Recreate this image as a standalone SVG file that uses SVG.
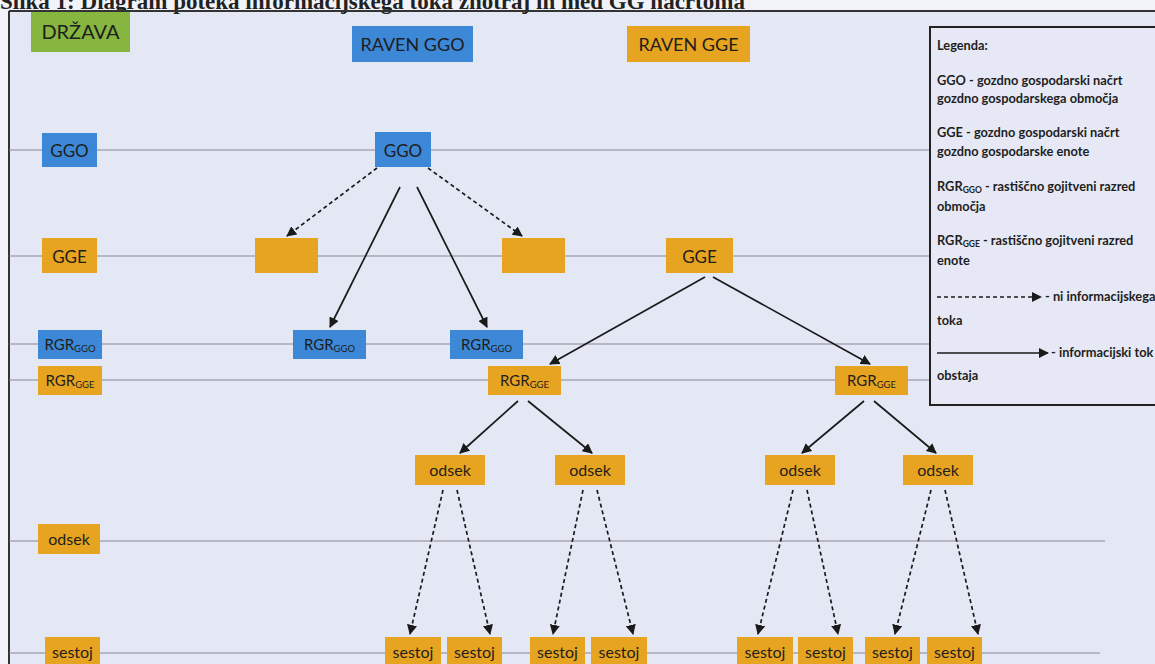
<svg xmlns="http://www.w3.org/2000/svg" width="1155" height="664" viewBox="0 0 1155 664">
<defs>
<style>
.bg{fill:#e4e7f4}
.b{fill:#3c87d6}
.o{fill:#e7a420}
.g{fill:#86b540}
.t{font-family:Lato,"Open Sans","Liberation Sans",sans-serif;fill:#1e1e1e;text-anchor:middle}
.lg{font-family:Lato,"Open Sans","Liberation Sans",sans-serif;fill:#1e1e1e;font-size:12.8px;font-weight:bold}
.grid{stroke:#8c8592;stroke-width:1}
.s{stroke:#1a1a1a;stroke-width:1.7;fill:none;marker-end:url(#ah)}
.d{stroke:#1a1a1a;stroke-width:1.7;fill:none;stroke-dasharray:4 3;marker-end:url(#ah)}
</style>
<marker id="ah" viewBox="0 0 10 10" refX="9" refY="5" markerWidth="6" markerHeight="6" orient="auto" markerUnits="strokeWidth"><path d="M0,0 L10,5 L0,10 z" fill="#1a1a1a"/></marker>
</defs>
<rect x="0" y="0" width="1155" height="664" fill="#f2f3f8"/>
<rect x="9" y="11" width="1146" height="653" class="bg"/>
<text x="0" y="9" font-family="Liberation Serif,serif" font-weight="bold" font-size="23" fill="#222">Slika 1: Diagram poteka informacijskega toka znotraj in med GG načrtoma</text>
<line x1="9" y1="11" x2="1155" y2="11" stroke="#333" stroke-width="2"/>
<line x1="9" y1="11" x2="9" y2="664" stroke="#333" stroke-width="2"/>

<g id="grid">
<line class="grid" x1="9" y1="150" x2="930" y2="150"/>
<line class="grid" x1="9" y1="256" x2="930" y2="256"/>
<line class="grid" x1="9" y1="344" x2="930" y2="344"/>
<line class="grid" x1="9" y1="380" x2="930" y2="380"/>
<line class="grid" x1="9" y1="541" x2="1105" y2="541"/>
<line class="grid" x1="9" y1="653" x2="1100" y2="653"/>
</g>

<g id="headers">
<g id="drzava"><rect class="g" x="31" y="12" width="99" height="40"/><text class="t" x="80.5" y="39" font-size="20">DRŽAVA</text></g>
<g id="raven-ggo"><rect class="b" x="352" y="26" width="121" height="36"/><text class="t" x="412.5" y="50.5" font-size="18">RAVEN GGO</text></g>
<g id="raven-gge"><rect class="o" x="627" y="26" width="123" height="36"/><text class="t" x="688.5" y="50.5" font-size="18">RAVEN GGE</text></g>
</g>

<g id="left-column">
<g id="l-ggo"><rect class="b" x="42" y="133" width="55" height="34"/><text class="t" x="69.5" y="156.5" font-size="17">GGO</text></g>
<g id="l-gge"><rect class="o" x="42" y="238" width="55" height="35"/><text class="t" x="69.5" y="262.5" font-size="17">GGE</text></g>
<g id="l-rgrggo"><rect class="b" x="38" y="330" width="64" height="29"/><text class="t" x="70" y="350" font-size="15">RGR<tspan font-size="9.5" dy="2">GGO</tspan></text></g>
<g id="l-rgrgge"><rect class="o" x="38" y="366" width="64" height="29"/><text class="t" x="70" y="386" font-size="15">RGR<tspan font-size="9.5" dy="2">GGE</tspan></text></g>
<g id="l-odsek"><rect class="o" x="38" y="524" width="62" height="30"/><text class="t" x="69" y="545" font-size="16">odsek</text></g>
<g id="l-sestoj"><rect class="o" x="45" y="637" width="55" height="30"/><text class="t" x="72.5" y="658" font-size="16">sestoj</text></g>
</g>

<g id="connectors">
<line class="d" x1="377" y1="168" x2="287" y2="236"/>
<line class="d" x1="428" y1="168" x2="522" y2="236"/>
<line class="s" x1="400" y1="187" x2="330" y2="327"/>
<line class="s" x1="417" y1="187" x2="487" y2="327"/>
<line class="s" x1="705" y1="277" x2="550" y2="364"/>
<line class="s" x1="713" y1="277" x2="870" y2="364"/>
<line class="s" x1="518" y1="401" x2="460" y2="453"/>
<line class="s" x1="528" y1="401" x2="592" y2="453"/>
<line class="s" x1="864" y1="401" x2="802" y2="453"/>
<line class="s" x1="874" y1="401" x2="936" y2="453"/>
<line class="d" x1="443" y1="490" x2="410" y2="634"/>
<line class="d" x1="457" y1="490" x2="490" y2="634"/>
<line class="d" x1="583" y1="490" x2="553" y2="634"/>
<line class="d" x1="597" y1="490" x2="633" y2="634"/>
<line class="d" x1="793" y1="490" x2="758" y2="634"/>
<line class="d" x1="807" y1="490" x2="838" y2="634"/>
<line class="d" x1="931" y1="490" x2="895" y2="634"/>
<line class="d" x1="945" y1="490" x2="978" y2="634"/>
</g>

<g id="n-ggo"><rect class="b" x="375" y="132" width="56" height="35"/><text class="t" x="403" y="156.5" font-size="17">GGO</text></g>
<g id="n-empty1"><rect class="o" x="255" y="238" width="63" height="35"/></g>
<g id="n-empty2"><rect class="o" x="502" y="238" width="63" height="35"/></g>
<g id="n-gge"><rect class="o" x="666" y="238" width="67" height="35"/><text class="t" x="699.5" y="262.5" font-size="17">GGE</text></g>
<g id="n-rgrggo1"><rect class="b" x="293" y="330" width="73" height="29"/><text class="t" x="329.5" y="350" font-size="15">RGR<tspan font-size="9.5" dy="2">GGO</tspan></text></g>
<g id="n-rgrggo2"><rect class="b" x="450" y="330" width="73" height="29"/><text class="t" x="486.5" y="350" font-size="15">RGR<tspan font-size="9.5" dy="2">GGO</tspan></text></g>
<g id="n-rgrgge1"><rect class="o" x="488" y="366" width="73" height="29"/><text class="t" x="524.5" y="386" font-size="15">RGR<tspan font-size="9.5" dy="2">GGE</tspan></text></g>
<g id="n-rgrgge2"><rect class="o" x="835" y="366" width="73" height="29"/><text class="t" x="871.5" y="386" font-size="15">RGR<tspan font-size="9.5" dy="2">GGE</tspan></text></g>
<g id="n-odsek1"><rect class="o" x="415" y="455" width="70" height="30"/><text class="t" x="450" y="476" font-size="16">odsek</text></g>
<g id="n-odsek2"><rect class="o" x="555" y="455" width="70" height="30"/><text class="t" x="590" y="476" font-size="16">odsek</text></g>
<g id="n-odsek3"><rect class="o" x="765" y="455" width="70" height="30"/><text class="t" x="800" y="476" font-size="16">odsek</text></g>
<g id="n-odsek4"><rect class="o" x="903" y="455" width="70" height="30"/><text class="t" x="938" y="476" font-size="16">odsek</text></g>
<g id="n-sestoj1"><rect class="o" x="385" y="637" width="56" height="30"/><text class="t" x="413" y="658" font-size="16">sestoj</text></g>
<g id="n-sestoj2"><rect class="o" x="447" y="637" width="55" height="30"/><text class="t" x="474.5" y="658" font-size="16">sestoj</text></g>
<g id="n-sestoj3"><rect class="o" x="530" y="637" width="55" height="30"/><text class="t" x="557.5" y="658" font-size="16">sestoj</text></g>
<g id="n-sestoj4"><rect class="o" x="591" y="637" width="56" height="30"/><text class="t" x="619" y="658" font-size="16">sestoj</text></g>
<g id="n-sestoj5"><rect class="o" x="737" y="637" width="56" height="30"/><text class="t" x="765" y="658" font-size="16">sestoj</text></g>
<g id="n-sestoj6"><rect class="o" x="798" y="637" width="55" height="30"/><text class="t" x="825.5" y="658" font-size="16">sestoj</text></g>
<g id="n-sestoj7"><rect class="o" x="865" y="637" width="55" height="30"/><text class="t" x="892.5" y="658" font-size="16">sestoj</text></g>
<g id="n-sestoj8"><rect class="o" x="927" y="637" width="55" height="30"/><text class="t" x="954.5" y="658" font-size="16">sestoj</text></g>

<g id="legend">
<rect x="930" y="27" width="240" height="378" fill="#e6e9f5" stroke="#222" stroke-width="2"/>
<text class="lg" x="937" y="50">Legenda:</text>
<text class="lg" x="937" y="85">GGO - gozdno gospodarski načrt</text>
<text class="lg" x="937" y="103">gozdno gospodarskega območja</text>
<text class="lg" x="937" y="137">GGE - gozdno gospodarski načrt</text>
<text class="lg" x="937" y="156">gozdno gospodarske enote</text>
<text class="lg" x="937" y="191">RGR<tspan font-size="8.5" dy="2">GGO</tspan><tspan dy="-2"> - rastiščno gojitveni razred</tspan></text>
<text class="lg" x="937" y="211">območja</text>
<text class="lg" x="937" y="245">RGR<tspan font-size="8.5" dy="2">GGE</tspan><tspan dy="-2"> - rastiščno gojitveni razred</tspan></text>
<text class="lg" x="937" y="265">enote</text>
<line class="d" x1="937" y1="297" x2="1041" y2="297" stroke-width="1.3"/>
<text class="lg" x="1045" y="301">- ni informacijskega</text>
<text class="lg" x="937" y="325">toka</text>
<line class="s" x1="937" y1="353" x2="1048" y2="353" stroke-width="1.3"/>
<text class="lg" x="1051" y="357">- informacijski tok</text>
<text class="lg" x="937" y="380">obstaja</text>
</g>
</svg>
